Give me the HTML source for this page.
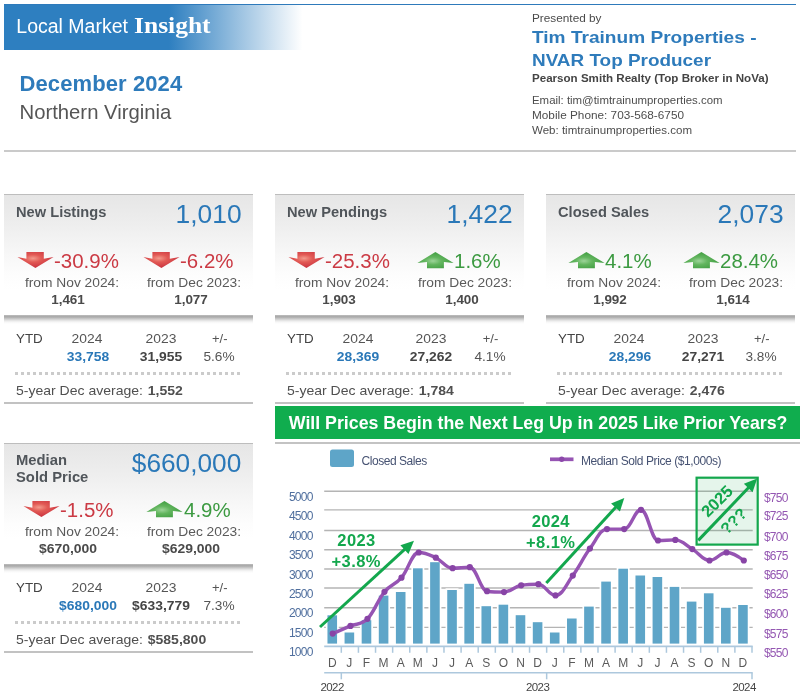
<!DOCTYPE html>
<html lang="en"><head><meta charset="utf-8"><title>Local Market Insight - December 2024 - Northern Virginia</title>
<style>
html,body{margin:0;padding:0;background:#fff;}
body{width:800px;height:693px;position:relative;overflow:hidden;will-change:transform;font-family:"Liberation Sans",sans-serif;}
.t{position:absolute;line-height:1;white-space:nowrap;}
.topline{position:absolute;left:4px;top:3.9px;width:792.2px;height:1.4px;background:#2e7abb;z-index:2;}
.banner{position:absolute;left:4.1px;top:4.2px;width:300px;height:46px;background:linear-gradient(90deg,#2e7fc0 0,#2e7fc0 55%,#fff 99.5%);}
.hr{position:absolute;left:4px;width:792.2px;height:1.7px;background:#cacaca;}
.card{position:absolute;width:249.3px;height:123px;border-top:1.6px solid #bdbdbd;box-sizing:border-box;background:linear-gradient(180deg,#e6e6e6 0,#eeeeee 25%,#f7f7f7 48%,#fdfdfd 66%,#fff 78%);}
.sep{position:absolute;width:249.3px;height:9px;background:linear-gradient(180deg,#c4c4c4 0,#ababab 1px,#ababab 2px,#c6c6c6 3.6px,#e4e4e4 5.5px,#f6f6f6 7px,#fff 9px);}
.dots{position:absolute;width:225.6px;height:3px;background:repeating-linear-gradient(90deg,#cbcbcb 0,#cbcbcb 2.8px,transparent 2.8px,transparent 6px);}
.cbot{position:absolute;width:249.3px;height:1.7px;background:#c2c2c2;}
.arr{position:absolute;}
.gbanner{position:absolute;left:275.4px;top:406px;width:524.6px;height:33.4px;background:#10ad4e;}
.gbanner span{position:absolute;left:13.4px;top:8.8px;font-size:17.75px;line-height:1;font-weight:bold;color:#fff;white-space:nowrap;}
.hr2{position:absolute;left:274.5px;top:442.3px;width:525.5px;height:2.2px;background:#c3c3c3;}
.chart{position:absolute;left:0;top:0;}
.serif{font-family:"Liberation Serif",serif;font-size:22.7px;font-weight:bold;transform:scaleX(1.125);transform-origin:0 0;}
</style></head><body>
<svg width="0" height="0" style="position:absolute"><defs>
<radialGradient id="gd" cx="43%" cy="40%" r="58%"><stop offset="0" stop-color="#f39a8c"/><stop offset="0.4" stop-color="#e25a55"/><stop offset="1" stop-color="#cb3540"/></radialGradient>
<radialGradient id="gu" cx="43%" cy="55%" r="58%"><stop offset="0" stop-color="#9dd499"/><stop offset="0.4" stop-color="#62b55e"/><stop offset="1" stop-color="#3f9c40"/></radialGradient>
</defs></svg>
<div class="topline"></div>
<div class="banner"></div>
<span class="t" style="left:16.3px;top:16.7px;font-size:19.5px;color:#fff;white-space:pre">Local Market </span>
<span class="t serif" style="left:134.3px;top:15.29px;color:#fff">Insight</span>
<span class="t" style="top:72.78px;font-size:22px;color:#2e7bbb;font-weight:bold;letter-spacing:0.1px;left:19.50px;">December 2024</span>
<span class="t" style="top:101.82px;font-size:20.3px;color:#555;left:19.50px;">Northern Virginia</span>
<div class="hr" style="top:150.2px"></div>
<span class="t" style="top:12.67px;font-size:11.5px;color:#4a4a4a;left:532.40px;transform:scaleX(1.0256);transform-origin:0 0;">Presented by</span>
<span class="t" style="top:28.76px;font-size:17.3px;color:#2e7bbb;font-weight:bold;left:532.40px;transform:scaleX(1.1045);transform-origin:0 0;">Tim Trainum Properties -</span>
<span class="t" style="top:52.06px;font-size:17.3px;color:#2e7bbb;font-weight:bold;left:532.40px;transform:scaleX(1.0945);transform-origin:0 0;">NVAR Top Producer</span>
<span class="t" style="top:73.19px;font-size:11px;color:#444;font-weight:bold;left:532.40px;transform:scaleX(1.0524);transform-origin:0 0;">Pearson Smith Realty (Top Broker in NoVa)</span>
<span class="t" style="top:94.59px;font-size:11px;color:#4d4d4d;left:532.40px;transform:scaleX(1.0379);transform-origin:0 0;">Email: tim@timtrainumproperties.com</span>
<span class="t" style="top:110.09px;font-size:11px;color:#4d4d4d;left:532.40px;transform:scaleX(1.0712);transform-origin:0 0;">Mobile Phone: 703-568-6750</span>
<span class="t" style="top:125.39px;font-size:11px;color:#4d4d4d;left:532.40px;transform:scaleX(1.0483);transform-origin:0 0;">Web: timtrainumproperties.com</span>
<div class="card" style="left:4px;top:194px"></div>
<div class="sep" style="left:4px;top:315.4px"></div>
<div class="dots" style="left:15px;top:371.5px"></div>
<div class="cbot" style="left:4px;top:402.2px"></div>
<span class="t" style="top:204.63px;font-size:14.5px;color:#50555a;font-weight:bold;left:16.00px;transform:scaleX(1.0100);transform-origin:0 0;">New Listings</span>
<span class="t" style="top:201.84px;font-size:25px;color:#2a78b8;right:558.30px;transform:scaleX(1.0550);transform-origin:100% 0;">1,010</span>
<svg class="arr" style="left:17.87px;top:252.00px;overflow:visible" width="35" height="15.7" viewBox="0 0 35 15.7"><polygon points="8.4,0 25.8,0 25.8,6.7 35.6,5.1 17.4,15.9 -0.6,5.1 8.4,6.7" fill="url(#gd)"/></svg>
<span class="t" style="top:252.29px;font-size:19.5px;color:#cb3a44;left:54.07px;transform:scaleX(1.0500);transform-origin:0 0;">-30.9%</span>
<span class="t" style="top:276.10px;font-size:13px;color:#5a5a5a;left:71.50px;transform:translateX(-50%) scaleX(1.0600);">from Nov 2024:</span>
<span class="t" style="top:293.00px;font-size:13px;color:#4a4a4a;font-weight:bold;left:67.80px;transform:translateX(-50%) scaleX(1.0350);">1,461</span>
<svg class="arr" style="left:143.96px;top:252.00px;overflow:visible" width="35" height="15.7" viewBox="0 0 35 15.7"><polygon points="8.4,0 25.8,0 25.8,6.7 35.6,5.1 17.4,15.9 -0.6,5.1 8.4,6.7" fill="url(#gd)"/></svg>
<span class="t" style="top:252.29px;font-size:19.5px;color:#cb3a44;left:180.16px;transform:scaleX(1.0500);transform-origin:0 0;">-6.2%</span>
<span class="t" style="top:276.10px;font-size:13px;color:#5a5a5a;left:194.40px;transform:translateX(-50%) scaleX(1.0600);">from Dec 2023:</span>
<span class="t" style="top:293.00px;font-size:13px;color:#4a4a4a;font-weight:bold;left:190.80px;transform:translateX(-50%) scaleX(1.0350);">1,077</span>
<span class="t" style="top:331.50px;font-size:13px;color:#444;left:16.00px;transform:scaleX(1.0300);transform-origin:0 0;">YTD</span>
<span class="t" style="top:331.50px;font-size:13px;color:#555;left:87.20px;transform:translateX(-50%) scaleX(1.0650);">2024</span>
<span class="t" style="top:349.60px;font-size:13px;color:#2a78b8;font-weight:bold;left:87.50px;transform:translateX(-50%) scaleX(1.0650);">33,758</span>
<span class="t" style="top:331.50px;font-size:13px;color:#555;left:160.60px;transform:translateX(-50%) scaleX(1.0650);">2023</span>
<span class="t" style="top:349.60px;font-size:13px;color:#444;font-weight:bold;left:160.60px;transform:translateX(-50%) scaleX(1.0650);">31,955</span>
<span class="t" style="top:331.50px;font-size:13px;color:#555;left:219.80px;transform:translateX(-50%) scaleX(1.0000);">+/-</span>
<span class="t" style="top:349.60px;font-size:13px;color:#555;left:219.40px;transform:translateX(-50%) scaleX(1.0500);">5.6%</span>
<span class="t" style="left:16px;top:383.60px;font-size:13px;color:#505050;transform:scaleX(1.078);transform-origin:0 0">5-year Dec average: <b style="margin-left:0.8px">1,552</b></span>
<div class="card" style="left:274.7px;top:194px"></div>
<div class="sep" style="left:274.7px;top:315.4px"></div>
<div class="dots" style="left:285.7px;top:371.5px"></div>
<div class="cbot" style="left:274.7px;top:402.2px"></div>
<span class="t" style="top:204.63px;font-size:14.5px;color:#50555a;font-weight:bold;left:286.70px;transform:scaleX(1.0100);transform-origin:0 0;">New Pendings</span>
<span class="t" style="top:201.84px;font-size:25px;color:#2a78b8;right:287.60px;transform:scaleX(1.0550);transform-origin:100% 0;">1,422</span>
<svg class="arr" style="left:288.57px;top:252.00px;overflow:visible" width="35" height="15.7" viewBox="0 0 35 15.7"><polygon points="8.4,0 25.8,0 25.8,6.7 35.6,5.1 17.4,15.9 -0.6,5.1 8.4,6.7" fill="url(#gd)"/></svg>
<span class="t" style="top:252.29px;font-size:19.5px;color:#cb3a44;left:324.77px;transform:scaleX(1.0500);transform-origin:0 0;">-25.3%</span>
<span class="t" style="top:276.10px;font-size:13px;color:#5a5a5a;left:342.20px;transform:translateX(-50%) scaleX(1.0600);">from Nov 2024:</span>
<span class="t" style="top:293.00px;font-size:13px;color:#4a4a4a;font-weight:bold;left:338.50px;transform:translateX(-50%) scaleX(1.0350);">1,903</span>
<svg class="arr" style="left:418.07px;top:252.00px;overflow:visible" width="35" height="15.7" viewBox="0 0 35 15.7"><polygon points="17.4,0 35.6,10.9 25.9,10.1 25.9,16.3 9,16.3 9,10.1 -0.6,10.9" fill="url(#gu)"/></svg>
<span class="t" style="top:252.29px;font-size:19.5px;color:#3c9a41;left:454.27px;transform:scaleX(1.0500);transform-origin:0 0;">1.6%</span>
<span class="t" style="top:276.10px;font-size:13px;color:#5a5a5a;left:465.10px;transform:translateX(-50%) scaleX(1.0600);">from Dec 2023:</span>
<span class="t" style="top:293.00px;font-size:13px;color:#4a4a4a;font-weight:bold;left:461.50px;transform:translateX(-50%) scaleX(1.0350);">1,400</span>
<span class="t" style="top:331.50px;font-size:13px;color:#444;left:286.70px;transform:scaleX(1.0300);transform-origin:0 0;">YTD</span>
<span class="t" style="top:331.50px;font-size:13px;color:#555;left:357.90px;transform:translateX(-50%) scaleX(1.0650);">2024</span>
<span class="t" style="top:349.60px;font-size:13px;color:#2a78b8;font-weight:bold;left:358.20px;transform:translateX(-50%) scaleX(1.0650);">28,369</span>
<span class="t" style="top:331.50px;font-size:13px;color:#555;left:431.30px;transform:translateX(-50%) scaleX(1.0650);">2023</span>
<span class="t" style="top:349.60px;font-size:13px;color:#444;font-weight:bold;left:431.30px;transform:translateX(-50%) scaleX(1.0650);">27,262</span>
<span class="t" style="top:331.50px;font-size:13px;color:#555;left:490.50px;transform:translateX(-50%) scaleX(1.0000);">+/-</span>
<span class="t" style="top:349.60px;font-size:13px;color:#555;left:490.10px;transform:translateX(-50%) scaleX(1.0500);">4.1%</span>
<span class="t" style="left:286.7px;top:383.60px;font-size:13px;color:#505050;transform:scaleX(1.078);transform-origin:0 0">5-year Dec average: <b style="margin-left:0.8px">1,784</b></span>
<div class="card" style="left:546.0px;top:194px"></div>
<div class="sep" style="left:546.0px;top:315.4px"></div>
<div class="dots" style="left:557.0px;top:371.5px"></div>
<div class="cbot" style="left:546.0px;top:402.2px"></div>
<span class="t" style="top:204.63px;font-size:14.5px;color:#50555a;font-weight:bold;left:558.00px;transform:scaleX(1.0100);transform-origin:0 0;">Closed Sales</span>
<span class="t" style="top:201.84px;font-size:25px;color:#2a78b8;right:16.30px;transform:scaleX(1.0550);transform-origin:100% 0;">2,073</span>
<svg class="arr" style="left:568.97px;top:252.00px;overflow:visible" width="35" height="15.7" viewBox="0 0 35 15.7"><polygon points="17.4,0 35.6,10.9 25.9,10.1 25.9,16.3 9,16.3 9,10.1 -0.6,10.9" fill="url(#gu)"/></svg>
<span class="t" style="top:252.29px;font-size:19.5px;color:#3c9a41;left:605.17px;transform:scaleX(1.0500);transform-origin:0 0;">4.1%</span>
<span class="t" style="top:276.10px;font-size:13px;color:#5a5a5a;left:613.50px;transform:translateX(-50%) scaleX(1.0600);">from Nov 2024:</span>
<span class="t" style="top:293.00px;font-size:13px;color:#4a4a4a;font-weight:bold;left:609.80px;transform:translateX(-50%) scaleX(1.0350);">1,992</span>
<svg class="arr" style="left:683.68px;top:252.00px;overflow:visible" width="35" height="15.7" viewBox="0 0 35 15.7"><polygon points="17.4,0 35.6,10.9 25.9,10.1 25.9,16.3 9,16.3 9,10.1 -0.6,10.9" fill="url(#gu)"/></svg>
<span class="t" style="top:252.29px;font-size:19.5px;color:#3c9a41;left:719.88px;transform:scaleX(1.0500);transform-origin:0 0;">28.4%</span>
<span class="t" style="top:276.10px;font-size:13px;color:#5a5a5a;left:736.40px;transform:translateX(-50%) scaleX(1.0600);">from Dec 2023:</span>
<span class="t" style="top:293.00px;font-size:13px;color:#4a4a4a;font-weight:bold;left:732.80px;transform:translateX(-50%) scaleX(1.0350);">1,614</span>
<span class="t" style="top:331.50px;font-size:13px;color:#444;left:558.00px;transform:scaleX(1.0300);transform-origin:0 0;">YTD</span>
<span class="t" style="top:331.50px;font-size:13px;color:#555;left:629.20px;transform:translateX(-50%) scaleX(1.0650);">2024</span>
<span class="t" style="top:349.60px;font-size:13px;color:#2a78b8;font-weight:bold;left:629.50px;transform:translateX(-50%) scaleX(1.0650);">28,296</span>
<span class="t" style="top:331.50px;font-size:13px;color:#555;left:702.60px;transform:translateX(-50%) scaleX(1.0650);">2023</span>
<span class="t" style="top:349.60px;font-size:13px;color:#444;font-weight:bold;left:702.60px;transform:translateX(-50%) scaleX(1.0650);">27,271</span>
<span class="t" style="top:331.50px;font-size:13px;color:#555;left:761.80px;transform:translateX(-50%) scaleX(1.0000);">+/-</span>
<span class="t" style="top:349.60px;font-size:13px;color:#555;left:761.40px;transform:translateX(-50%) scaleX(1.0500);">3.8%</span>
<span class="t" style="left:558.0px;top:383.60px;font-size:13px;color:#505050;transform:scaleX(1.078);transform-origin:0 0">5-year Dec average: <b style="margin-left:0.8px">2,476</b></span>
<div class="card" style="left:4px;top:443px"></div>
<div class="sep" style="left:4px;top:564.4px"></div>
<div class="dots" style="left:15px;top:620.5px"></div>
<div class="cbot" style="left:4px;top:651.2px"></div>
<span class="t" style="top:453.33px;font-size:14.5px;color:#50555a;font-weight:bold;left:16.00px;transform:scaleX(1.0200);transform-origin:0 0;">Median</span>
<span class="t" style="top:470.13px;font-size:14.5px;color:#50555a;font-weight:bold;left:16.00px;transform:scaleX(1.0200);transform-origin:0 0;">Sold Price</span>
<span class="t" style="top:451.14px;font-size:25px;color:#2a78b8;right:559.00px;transform:scaleX(1.0500);transform-origin:100% 0;">$660,000</span>
<svg class="arr" style="left:23.56px;top:501.00px;overflow:visible" width="35" height="15.7" viewBox="0 0 35 15.7"><polygon points="8.4,0 25.8,0 25.8,6.7 35.6,5.1 17.4,15.9 -0.6,5.1 8.4,6.7" fill="url(#gd)"/></svg>
<span class="t" style="top:501.29px;font-size:19.5px;color:#cb3a44;left:59.76px;transform:scaleX(1.0500);transform-origin:0 0;">-1.5%</span>
<span class="t" style="top:525.10px;font-size:13px;color:#5a5a5a;left:71.50px;transform:translateX(-50%) scaleX(1.0600);">from Nov 2024:</span>
<span class="t" style="top:542.00px;font-size:13px;color:#4a4a4a;font-weight:bold;left:67.80px;transform:translateX(-50%) scaleX(1.0700);">$670,000</span>
<svg class="arr" style="left:147.37px;top:501.00px;overflow:visible" width="35" height="15.7" viewBox="0 0 35 15.7"><polygon points="17.4,0 35.6,10.9 25.9,10.1 25.9,16.3 9,16.3 9,10.1 -0.6,10.9" fill="url(#gu)"/></svg>
<span class="t" style="top:501.29px;font-size:19.5px;color:#3c9a41;left:183.57px;transform:scaleX(1.0500);transform-origin:0 0;">4.9%</span>
<span class="t" style="top:525.10px;font-size:13px;color:#5a5a5a;left:194.40px;transform:translateX(-50%) scaleX(1.0600);">from Dec 2023:</span>
<span class="t" style="top:542.00px;font-size:13px;color:#4a4a4a;font-weight:bold;left:190.80px;transform:translateX(-50%) scaleX(1.0700);">$629,000</span>
<span class="t" style="top:580.50px;font-size:13px;color:#444;left:16.00px;transform:scaleX(1.0300);transform-origin:0 0;">YTD</span>
<span class="t" style="top:580.50px;font-size:13px;color:#555;left:87.20px;transform:translateX(-50%) scaleX(1.0650);">2024</span>
<span class="t" style="top:598.60px;font-size:13px;color:#2a78b8;font-weight:bold;left:87.50px;transform:translateX(-50%) scaleX(1.0650);">$680,000</span>
<span class="t" style="top:580.50px;font-size:13px;color:#555;left:160.60px;transform:translateX(-50%) scaleX(1.0650);">2023</span>
<span class="t" style="top:598.60px;font-size:13px;color:#444;font-weight:bold;left:160.60px;transform:translateX(-50%) scaleX(1.0650);">$633,779</span>
<span class="t" style="top:580.50px;font-size:13px;color:#555;left:219.80px;transform:translateX(-50%) scaleX(1.0000);">+/-</span>
<span class="t" style="top:598.60px;font-size:13px;color:#555;left:219.40px;transform:translateX(-50%) scaleX(1.0500);">7.3%</span>
<span class="t" style="left:16px;top:632.60px;font-size:13px;color:#505050;transform:scaleX(1.078);transform-origin:0 0">5-year Dec average: <b style="margin-left:0.8px">$585,800</b></span>
<div class="gbanner"><span>Will Prices Begin the Next Leg Up in 2025 Like Prior Years?</span></div>
<div class="hr2"></div>
<svg class="chart" width="800" height="693" viewBox="0 0 800 693">
<line x1="324.2" x2="752.7" y1="491.20" y2="491.20" stroke="#b4b4b4" stroke-width="1.35"/>
<line x1="324.2" x2="752.7" y1="509.90" y2="509.90" stroke="#b4b4b4" stroke-width="1.35"/>
<line x1="324.2" x2="752.7" y1="530.50" y2="530.50" stroke="#b4b4b4" stroke-width="1.35"/>
<line x1="324.2" x2="752.7" y1="549.70" y2="549.70" stroke="#b4b4b4" stroke-width="1.35"/>
<line x1="324.2" x2="752.7" y1="569.00" y2="569.00" stroke="#b4b4b4" stroke-width="1.35"/>
<line x1="324.2" x2="752.7" y1="588.00" y2="588.00" stroke="#b4b4b4" stroke-width="1.35"/>
<line x1="324.2" x2="752.7" y1="607.70" y2="607.70" stroke="#b4b4b4" stroke-width="1.35"/>
<line x1="324.2" x2="752.7" y1="627.40" y2="627.40" stroke="#b4b4b4" stroke-width="1.35"/>
<rect x="327.46" y="615.30" width="9.6" height="28.30" fill="#5ea5c8" stroke="#fff" stroke-width="3.4" paint-order="stroke"/>
<rect x="344.57" y="632.50" width="9.6" height="11.10" fill="#5ea5c8" stroke="#fff" stroke-width="3.4" paint-order="stroke"/>
<rect x="361.68" y="620.20" width="9.6" height="23.40" fill="#5ea5c8" stroke="#fff" stroke-width="3.4" paint-order="stroke"/>
<rect x="378.79" y="595.60" width="9.6" height="48.00" fill="#5ea5c8" stroke="#fff" stroke-width="3.4" paint-order="stroke"/>
<rect x="395.90" y="592.00" width="9.6" height="51.60" fill="#5ea5c8" stroke="#fff" stroke-width="3.4" paint-order="stroke"/>
<rect x="413.02" y="568.30" width="9.6" height="75.30" fill="#5ea5c8" stroke="#fff" stroke-width="3.4" paint-order="stroke"/>
<rect x="430.13" y="562.20" width="9.6" height="81.40" fill="#5ea5c8" stroke="#fff" stroke-width="3.4" paint-order="stroke"/>
<rect x="447.24" y="590.00" width="9.6" height="53.60" fill="#5ea5c8" stroke="#fff" stroke-width="3.4" paint-order="stroke"/>
<rect x="464.35" y="583.80" width="9.6" height="59.80" fill="#5ea5c8" stroke="#fff" stroke-width="3.4" paint-order="stroke"/>
<rect x="481.46" y="606.20" width="9.6" height="37.40" fill="#5ea5c8" stroke="#fff" stroke-width="3.4" paint-order="stroke"/>
<rect x="498.58" y="604.70" width="9.6" height="38.90" fill="#5ea5c8" stroke="#fff" stroke-width="3.4" paint-order="stroke"/>
<rect x="515.69" y="615.20" width="9.6" height="28.40" fill="#5ea5c8" stroke="#fff" stroke-width="3.4" paint-order="stroke"/>
<rect x="532.80" y="622.20" width="9.6" height="21.40" fill="#5ea5c8" stroke="#fff" stroke-width="3.4" paint-order="stroke"/>
<rect x="549.91" y="632.50" width="9.6" height="11.10" fill="#5ea5c8" stroke="#fff" stroke-width="3.4" paint-order="stroke"/>
<rect x="567.02" y="618.50" width="9.6" height="25.10" fill="#5ea5c8" stroke="#fff" stroke-width="3.4" paint-order="stroke"/>
<rect x="584.14" y="606.60" width="9.6" height="37.00" fill="#5ea5c8" stroke="#fff" stroke-width="3.4" paint-order="stroke"/>
<rect x="601.25" y="581.60" width="9.6" height="62.00" fill="#5ea5c8" stroke="#fff" stroke-width="3.4" paint-order="stroke"/>
<rect x="618.36" y="568.70" width="9.6" height="74.90" fill="#5ea5c8" stroke="#fff" stroke-width="3.4" paint-order="stroke"/>
<rect x="635.47" y="575.50" width="9.6" height="68.10" fill="#5ea5c8" stroke="#fff" stroke-width="3.4" paint-order="stroke"/>
<rect x="652.58" y="577.00" width="9.6" height="66.60" fill="#5ea5c8" stroke="#fff" stroke-width="3.4" paint-order="stroke"/>
<rect x="669.70" y="586.90" width="9.6" height="56.70" fill="#5ea5c8" stroke="#fff" stroke-width="3.4" paint-order="stroke"/>
<rect x="686.81" y="601.60" width="9.6" height="42.00" fill="#5ea5c8" stroke="#fff" stroke-width="3.4" paint-order="stroke"/>
<rect x="703.92" y="593.30" width="9.6" height="50.30" fill="#5ea5c8" stroke="#fff" stroke-width="3.4" paint-order="stroke"/>
<rect x="721.03" y="607.80" width="9.6" height="35.80" fill="#5ea5c8" stroke="#fff" stroke-width="3.4" paint-order="stroke"/>
<rect x="738.14" y="605.00" width="9.6" height="38.60" fill="#5ea5c8" stroke="#fff" stroke-width="3.4" paint-order="stroke"/>
<rect x="324.2" y="644.2" width="428.5" height="4" fill="#fff"/>
<line x1="324.2" x2="752.7" y1="646.3" y2="646.3" stroke="#adc8dd" stroke-width="1.7"/>
<line x1="341.31" x2="341.31" y1="646.3" y2="652.8" stroke="#adc8dd" stroke-width="1.5"/>
<line x1="358.42" x2="358.42" y1="646.3" y2="652.8" stroke="#adc8dd" stroke-width="1.5"/>
<line x1="375.54" x2="375.54" y1="646.3" y2="652.8" stroke="#adc8dd" stroke-width="1.5"/>
<line x1="392.65" x2="392.65" y1="646.3" y2="652.8" stroke="#adc8dd" stroke-width="1.5"/>
<line x1="409.76" x2="409.76" y1="646.3" y2="652.8" stroke="#adc8dd" stroke-width="1.5"/>
<line x1="426.87" x2="426.87" y1="646.3" y2="652.8" stroke="#adc8dd" stroke-width="1.5"/>
<line x1="443.98" x2="443.98" y1="646.3" y2="652.8" stroke="#adc8dd" stroke-width="1.5"/>
<line x1="461.10" x2="461.10" y1="646.3" y2="652.8" stroke="#adc8dd" stroke-width="1.5"/>
<line x1="478.21" x2="478.21" y1="646.3" y2="652.8" stroke="#adc8dd" stroke-width="1.5"/>
<line x1="495.32" x2="495.32" y1="646.3" y2="652.8" stroke="#adc8dd" stroke-width="1.5"/>
<line x1="512.43" x2="512.43" y1="646.3" y2="652.8" stroke="#adc8dd" stroke-width="1.5"/>
<line x1="529.54" x2="529.54" y1="646.3" y2="652.8" stroke="#adc8dd" stroke-width="1.5"/>
<line x1="546.66" x2="546.66" y1="646.3" y2="652.8" stroke="#adc8dd" stroke-width="1.5"/>
<line x1="563.77" x2="563.77" y1="646.3" y2="652.8" stroke="#adc8dd" stroke-width="1.5"/>
<line x1="580.88" x2="580.88" y1="646.3" y2="652.8" stroke="#adc8dd" stroke-width="1.5"/>
<line x1="597.99" x2="597.99" y1="646.3" y2="652.8" stroke="#adc8dd" stroke-width="1.5"/>
<line x1="615.10" x2="615.10" y1="646.3" y2="652.8" stroke="#adc8dd" stroke-width="1.5"/>
<line x1="632.22" x2="632.22" y1="646.3" y2="652.8" stroke="#adc8dd" stroke-width="1.5"/>
<line x1="649.33" x2="649.33" y1="646.3" y2="652.8" stroke="#adc8dd" stroke-width="1.5"/>
<line x1="666.44" x2="666.44" y1="646.3" y2="652.8" stroke="#adc8dd" stroke-width="1.5"/>
<line x1="683.55" x2="683.55" y1="646.3" y2="652.8" stroke="#adc8dd" stroke-width="1.5"/>
<line x1="700.66" x2="700.66" y1="646.3" y2="652.8" stroke="#adc8dd" stroke-width="1.5"/>
<line x1="717.78" x2="717.78" y1="646.3" y2="652.8" stroke="#adc8dd" stroke-width="1.5"/>
<line x1="734.89" x2="734.89" y1="646.3" y2="652.8" stroke="#adc8dd" stroke-width="1.5"/>
<line x1="752.00" x2="752.00" y1="646.3" y2="652.8" stroke="#adc8dd" stroke-width="1.5"/>
<line x1="324.2" x2="752.7" y1="672.8" y2="672.8" stroke="#adc8dd" stroke-width="1.6"/>
<line x1="341.31" x2="341.31" y1="672.8" y2="679.3" stroke="#adc8dd" stroke-width="1.5"/>
<line x1="546.66" x2="546.66" y1="672.8" y2="679.3" stroke="#adc8dd" stroke-width="1.5"/>
<line x1="752.00" x2="752.00" y1="672.8" y2="679.3" stroke="#adc8dd" stroke-width="1.5"/>
<path d="M332.70,633.60 C332.70,633.60 343.38,628.93 350.50,625.90 C357.30,623.01 360.70,625.62 367.50,618.80 C374.30,611.98 377.70,600.02 384.50,591.80 C391.30,583.58 394.70,585.51 401.50,577.70 C408.38,569.79 411.82,552.50 418.70,552.50 C425.54,552.50 428.96,554.53 435.80,557.70 C442.52,560.81 445.88,568.20 452.60,568.20 C459.48,568.20 462.92,567.20 469.80,567.20 C476.68,567.20 480.12,590.30 487.00,591.20 C493.80,592.10 497.20,592.10 504.00,592.10 C510.88,592.10 514.32,586.40 521.20,585.30 C528.08,584.20 531.52,584.20 538.40,584.20 C545.24,584.20 548.66,595.40 555.50,595.40 C562.42,595.40 565.88,585.01 572.80,575.60 C579.64,566.29 583.06,557.90 589.90,548.60 C596.74,539.30 600.16,529.10 607.00,529.10 C613.88,529.10 617.32,529.10 624.20,529.10 C630.92,529.10 634.28,509.80 641.00,509.80 C647.80,509.80 651.20,540.50 658.00,540.50 C664.92,540.50 668.38,539.90 675.30,539.90 C682.10,539.90 685.50,545.00 692.30,549.10 C699.18,553.24 702.62,560.50 709.50,560.50 C716.30,560.50 719.70,552.50 726.50,552.50 C733.42,552.50 743.80,560.50 743.80,560.50" fill="none" stroke="#9654b3" stroke-width="3.4" stroke-linejoin="round" stroke-linecap="round"/>
<circle cx="332.7" cy="633.6" r="3.1" fill="#8844a6"/>
<circle cx="350.5" cy="625.9" r="3.1" fill="#8844a6"/>
<circle cx="367.5" cy="618.8" r="3.1" fill="#8844a6"/>
<circle cx="384.5" cy="591.8" r="3.1" fill="#8844a6"/>
<circle cx="401.5" cy="577.7" r="3.1" fill="#8844a6"/>
<circle cx="418.7" cy="552.5" r="3.1" fill="#8844a6"/>
<circle cx="435.8" cy="557.7" r="3.1" fill="#8844a6"/>
<circle cx="452.6" cy="568.2" r="3.1" fill="#8844a6"/>
<circle cx="469.8" cy="567.2" r="3.1" fill="#8844a6"/>
<circle cx="487" cy="591.2" r="3.1" fill="#8844a6"/>
<circle cx="504" cy="592.1" r="3.1" fill="#8844a6"/>
<circle cx="521.2" cy="585.3" r="3.1" fill="#8844a6"/>
<circle cx="538.4" cy="584.2" r="3.1" fill="#8844a6"/>
<circle cx="555.5" cy="595.4" r="3.1" fill="#8844a6"/>
<circle cx="572.8" cy="575.6" r="3.1" fill="#8844a6"/>
<circle cx="589.9" cy="548.6" r="3.1" fill="#8844a6"/>
<circle cx="607" cy="529.1" r="3.1" fill="#8844a6"/>
<circle cx="624.2" cy="529.1" r="3.1" fill="#8844a6"/>
<circle cx="641" cy="509.8" r="3.1" fill="#8844a6"/>
<circle cx="658" cy="540.5" r="3.1" fill="#8844a6"/>
<circle cx="675.3" cy="539.9" r="3.1" fill="#8844a6"/>
<circle cx="692.3" cy="549.1" r="3.1" fill="#8844a6"/>
<circle cx="709.5" cy="560.5" r="3.1" fill="#8844a6"/>
<circle cx="726.5" cy="552.5" r="3.1" fill="#8844a6"/>
<circle cx="743.8" cy="560.5" r="3.1" fill="#8844a6"/>
<rect x="330" y="449.5" width="24" height="17.5" rx="2.5" fill="#5ea5c8"/>
<line x1="550" x2="573.5" y1="459.3" y2="459.3" stroke="#9654b3" stroke-width="3.7"/>
<circle cx="561.7" cy="459.3" r="2.7" fill="#8c48aa"/>
<line x1="320.00" y1="627.00" x2="405.16" y2="548.91" stroke="#13a74d" stroke-width="3.0"/>
<polygon points="414.00,540.80 408.47,554.01 400.36,545.16" fill="#13a74d"/>
<line x1="546.30" y1="583.00" x2="616.19" y2="506.75" stroke="#13a74d" stroke-width="3.0"/>
<polygon points="624.30,497.90 619.94,511.54 611.09,503.43" fill="#13a74d"/>
<rect x="696.6" y="477.7" width="61.1" height="66.9" fill="#13a74d" fill-opacity="0.11" stroke="#13a74d" stroke-width="2.2"/>
<line x1="698.30" y1="540.40" x2="748.92" y2="487.29" stroke="#13a74d" stroke-width="3"/>
<polygon points="757.20,478.60 752.57,492.15 743.89,483.87" fill="#13a74d"/>
<text transform="translate(717.4,501.6) rotate(-45)" text-anchor="middle" font-size="16.5" font-weight="bold" fill="#13a74d" y="5">2025</text>
<text transform="translate(733.9,521.4) rotate(-45)" text-anchor="middle" font-size="16" font-weight="bold" fill="#13a74d" y="5">???</text>
</svg>
<span class="t" style="top:455.34px;font-size:12px;color:#465272;letter-spacing:-0.45px;left:361.50px;">Closed Sales</span>
<span class="t" style="top:455.34px;font-size:12px;color:#465272;letter-spacing:-0.42px;left:581.00px;">Median Sold Price ($1,000s)</span>
<span class="t" style="top:490.94px;font-size:12px;color:#506f9e;letter-spacing:-0.75px;right:487.40px;">5000</span>
<span class="t" style="top:509.64px;font-size:12px;color:#506f9e;letter-spacing:-0.75px;right:487.40px;">4500</span>
<span class="t" style="top:530.24px;font-size:12px;color:#506f9e;letter-spacing:-0.75px;right:487.40px;">4000</span>
<span class="t" style="top:549.44px;font-size:12px;color:#506f9e;letter-spacing:-0.75px;right:487.40px;">3500</span>
<span class="t" style="top:568.74px;font-size:12px;color:#506f9e;letter-spacing:-0.75px;right:487.40px;">3000</span>
<span class="t" style="top:587.74px;font-size:12px;color:#506f9e;letter-spacing:-0.75px;right:487.40px;">2500</span>
<span class="t" style="top:607.44px;font-size:12px;color:#506f9e;letter-spacing:-0.75px;right:487.40px;">2000</span>
<span class="t" style="top:627.14px;font-size:12px;color:#506f9e;letter-spacing:-0.75px;right:487.40px;">1500</span>
<span class="t" style="top:646.34px;font-size:12px;color:#506f9e;letter-spacing:-0.75px;right:487.40px;">1000</span>
<span class="t" style="top:491.54px;font-size:12px;color:#9457b2;letter-spacing:-0.75px;left:763.90px;">$750</span>
<span class="t" style="top:510.24px;font-size:12px;color:#9457b2;letter-spacing:-0.75px;left:763.90px;">$725</span>
<span class="t" style="top:530.84px;font-size:12px;color:#9457b2;letter-spacing:-0.75px;left:763.90px;">$700</span>
<span class="t" style="top:550.04px;font-size:12px;color:#9457b2;letter-spacing:-0.75px;left:763.90px;">$675</span>
<span class="t" style="top:569.34px;font-size:12px;color:#9457b2;letter-spacing:-0.75px;left:763.90px;">$650</span>
<span class="t" style="top:588.34px;font-size:12px;color:#9457b2;letter-spacing:-0.75px;left:763.90px;">$625</span>
<span class="t" style="top:608.04px;font-size:12px;color:#9457b2;letter-spacing:-0.75px;left:763.90px;">$600</span>
<span class="t" style="top:627.74px;font-size:12px;color:#9457b2;letter-spacing:-0.75px;left:763.90px;">$575</span>
<span class="t" style="top:646.94px;font-size:12px;color:#9457b2;letter-spacing:-0.75px;left:763.90px;">$550</span>
<span class="t" style="top:656.94px;font-size:12px;color:#5a5a5a;left:332.26px;transform:translateX(-50%) ;">D</span>
<span class="t" style="top:656.94px;font-size:12px;color:#5a5a5a;left:349.37px;transform:translateX(-50%) ;">J</span>
<span class="t" style="top:656.94px;font-size:12px;color:#5a5a5a;left:366.48px;transform:translateX(-50%) ;">F</span>
<span class="t" style="top:656.94px;font-size:12px;color:#5a5a5a;left:383.59px;transform:translateX(-50%) ;">M</span>
<span class="t" style="top:656.94px;font-size:12px;color:#5a5a5a;left:400.70px;transform:translateX(-50%) ;">A</span>
<span class="t" style="top:656.94px;font-size:12px;color:#5a5a5a;left:417.82px;transform:translateX(-50%) ;">M</span>
<span class="t" style="top:656.94px;font-size:12px;color:#5a5a5a;left:434.93px;transform:translateX(-50%) ;">J</span>
<span class="t" style="top:656.94px;font-size:12px;color:#5a5a5a;left:452.04px;transform:translateX(-50%) ;">J</span>
<span class="t" style="top:656.94px;font-size:12px;color:#5a5a5a;left:469.15px;transform:translateX(-50%) ;">A</span>
<span class="t" style="top:656.94px;font-size:12px;color:#5a5a5a;left:486.26px;transform:translateX(-50%) ;">S</span>
<span class="t" style="top:656.94px;font-size:12px;color:#5a5a5a;left:503.38px;transform:translateX(-50%) ;">O</span>
<span class="t" style="top:656.94px;font-size:12px;color:#5a5a5a;left:520.49px;transform:translateX(-50%) ;">N</span>
<span class="t" style="top:656.94px;font-size:12px;color:#5a5a5a;left:537.60px;transform:translateX(-50%) ;">D</span>
<span class="t" style="top:656.94px;font-size:12px;color:#5a5a5a;left:554.71px;transform:translateX(-50%) ;">J</span>
<span class="t" style="top:656.94px;font-size:12px;color:#5a5a5a;left:571.82px;transform:translateX(-50%) ;">F</span>
<span class="t" style="top:656.94px;font-size:12px;color:#5a5a5a;left:588.94px;transform:translateX(-50%) ;">M</span>
<span class="t" style="top:656.94px;font-size:12px;color:#5a5a5a;left:606.05px;transform:translateX(-50%) ;">A</span>
<span class="t" style="top:656.94px;font-size:12px;color:#5a5a5a;left:623.16px;transform:translateX(-50%) ;">M</span>
<span class="t" style="top:656.94px;font-size:12px;color:#5a5a5a;left:640.27px;transform:translateX(-50%) ;">J</span>
<span class="t" style="top:656.94px;font-size:12px;color:#5a5a5a;left:657.38px;transform:translateX(-50%) ;">J</span>
<span class="t" style="top:656.94px;font-size:12px;color:#5a5a5a;left:674.50px;transform:translateX(-50%) ;">A</span>
<span class="t" style="top:656.94px;font-size:12px;color:#5a5a5a;left:691.61px;transform:translateX(-50%) ;">S</span>
<span class="t" style="top:656.94px;font-size:12px;color:#5a5a5a;left:708.72px;transform:translateX(-50%) ;">O</span>
<span class="t" style="top:656.94px;font-size:12px;color:#5a5a5a;left:725.83px;transform:translateX(-50%) ;">N</span>
<span class="t" style="top:656.94px;font-size:12px;color:#5a5a5a;left:742.94px;transform:translateX(-50%) ;">D</span>
<span class="t" style="top:682.27px;font-size:11.5px;color:#444;letter-spacing:-0.6px;left:320.50px;">2022</span>
<span class="t" style="top:682.27px;font-size:11.5px;color:#444;letter-spacing:-0.6px;left:526.00px;">2023</span>
<span class="t" style="top:682.27px;font-size:11.5px;color:#444;letter-spacing:-0.6px;left:732.50px;">2024</span>
<span class="t" style="top:531.53px;font-size:16.5px;color:#13a74d;font-weight:bold;letter-spacing:0.4px;left:356.50px;transform:translateX(-50%) ;">2023</span>
<span class="t" style="top:553.03px;font-size:16.5px;color:#13a74d;font-weight:bold;letter-spacing:0.4px;left:356.20px;transform:translateX(-50%) ;">+3.8%</span>
<span class="t" style="top:512.53px;font-size:16.5px;color:#13a74d;font-weight:bold;letter-spacing:0.4px;left:550.80px;transform:translateX(-50%) ;">2024</span>
<span class="t" style="top:533.63px;font-size:16.5px;color:#13a74d;font-weight:bold;letter-spacing:0.4px;left:550.70px;transform:translateX(-50%) ;">+8.1%</span>
</body></html>
